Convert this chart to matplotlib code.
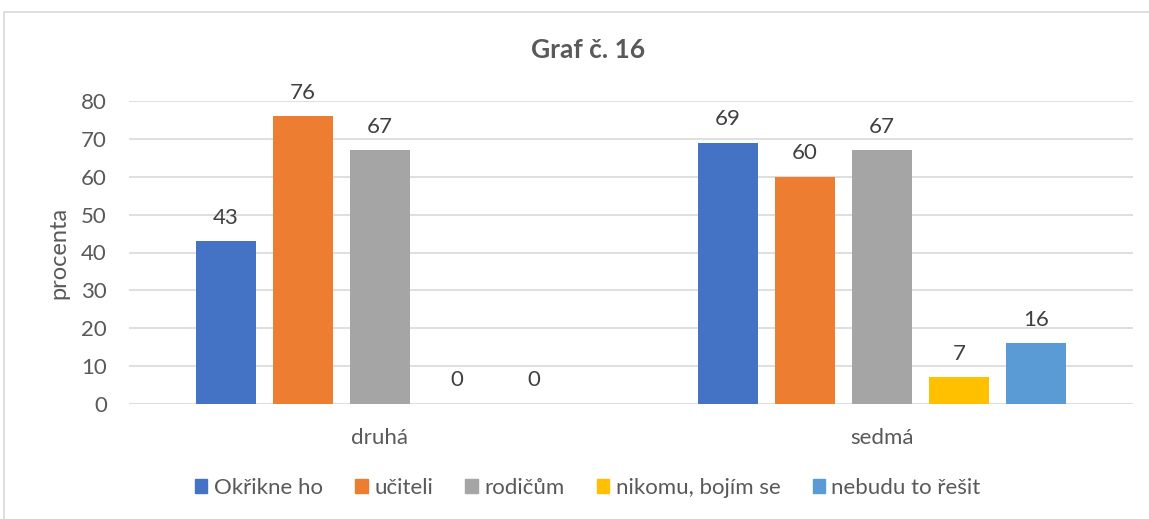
import matplotlib.pyplot as plt
import matplotlib.patches as mpatches
import numpy as np

plt.rcParams['font.family'] = ['Lato', 'DejaVu Sans']

# data
categories = ['druhá', 'sedmá']
series = ['Okřikne ho', 'učiteli', 'rodičům', 'nikomu, bojím se', 'nebudu to řešit']
values = [
    [43, 69],
    [76, 60],
    [67, 67],
    [0, 7],
    [0, 16],
]
colors = ['#4472C4', '#ED7D31', '#A5A5A5', '#FFC000', '#5B9BD5']
yticks = [0, 10, 20, 30, 40, 50, 60, 70, 80]

txt = '#595959'
grid = '#D9D9D9'

fig = plt.figure(figsize=(11.49, 5.19), dpi=100)
ax = fig.add_axes([129/1149, 1-404/519, (1133-129)/1149, (404-101)/519])

x = np.arange(len(categories))
width = 0.12
step = 0.1535
for i, (name, vals) in enumerate(zip(series, values)):
    pos = x + (i - 2) * step
    ax.bar(pos, vals, width=width, color=colors[i], label=name, zorder=3)
    for p, v in zip(pos, vals):
        ax.text(p, v + 3.6, str(v), ha='center', va='bottom', fontsize=16, color='#404040')

ax.set_xlim(-0.5, 1.5)
ax.set_ylim(0, 80)
ax.set_yticks(yticks)
ax.set_xticks(x)
ax.set_xticklabels(categories)
ax.tick_params(axis='both', length=0, labelsize=16, colors=txt)
ax.tick_params(axis='y', pad=16)
ax.tick_params(axis='x', pad=17)
ax.yaxis.grid(True, color=grid, linewidth=1.2, zorder=0)
for s in ax.spines.values():
    s.set_visible(False)
ax.set_ylabel('procenta', fontsize=17, color=txt, labelpad=8)

# chart frame is wider than the image, so its centre sits right of the middle
cx = 588/1149
fig.text(cx, 1-50/519, 'Graf č. 16', ha='center', va='center', fontsize=19,
         fontweight='bold', color=txt)

handles = [mpatches.Patch(color=c) for c in colors]
fig.legend(handles, series, loc='center', bbox_to_anchor=(cx, 1-488/519), ncol=5,
           frameon=False, fontsize=16, handlelength=0.55, handleheight=0.55,
           handletextpad=0.3, columnspacing=1.45, labelcolor=txt)

fig.patches.append(mpatches.Rectangle((4/1149, -0.1), 1.2, 1-12/519+0.1,
                   transform=fig.transFigure, fill=False, edgecolor=grid, linewidth=1.2))

fig.savefig('out.png', dpi=100)
